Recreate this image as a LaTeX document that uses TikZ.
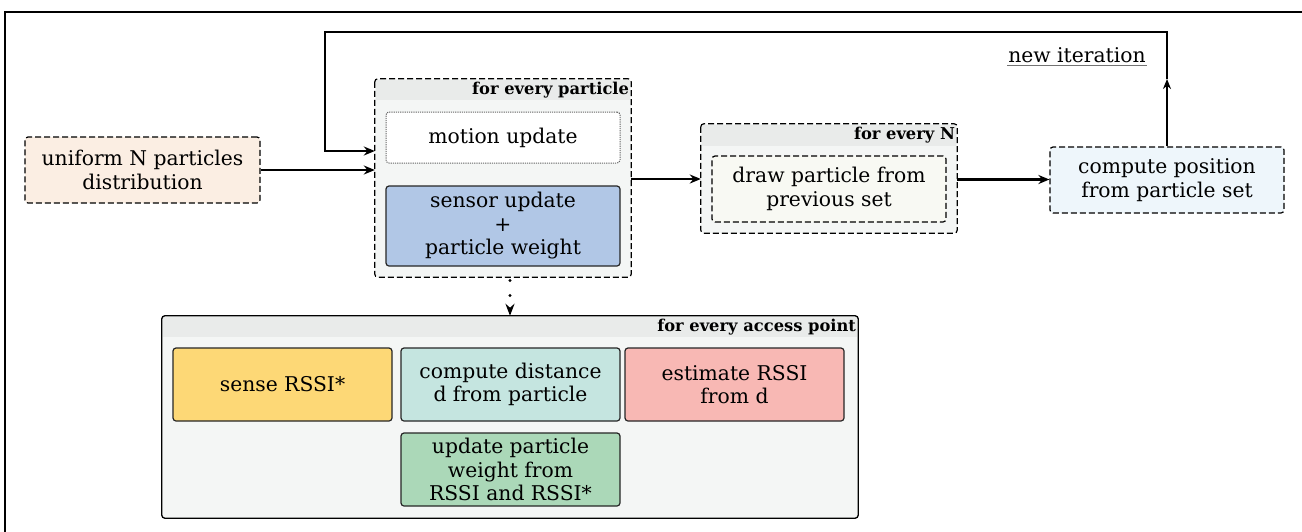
\documentclass[tikz,border=0pt]{standalone}
\usepackage{fontspec}
\setmainfont{DejaVu Serif}
\usetikzlibrary{arrows.meta,calc}
\definecolor{cpeach}{HTML}{FBEEE3}
\definecolor{cgray}{HTML}{F4F6F5}
\definecolor{chead}{HTML}{E9EBEA}
\definecolor{csensor}{HTML}{B1C7E6}
\definecolor{cdraw}{HTML}{F8F9F3}
\definecolor{cpos}{HTML}{EEF6FB}
\definecolor{csense}{HTML}{FDD876}
\definecolor{cdist}{HTML}{C5E5E0}
\definecolor{cest}{HTML}{F8B8B4}
\definecolor{cupd}{HTML}{ABD8B8}
\tikzset{
  txt/.style={font=\fontsize{20.3}{23.5}\selectfont, align=center},
  hdr/.style={font=\fontsize{16.3}{18}\selectfont\bfseries, anchor=north east, inner sep=1pt},
  box/.style={txt, rectangle, rounded corners=3pt, line width=1.2pt, inner sep=0pt},
  dsh/.style={dashed, dash pattern=on 6pt off 3pt},
  dbox/.style={box, draw, dsh},
  sbox/.style={box, draw=black!85},
  cont/.style={rectangle, rounded corners=3pt, inner sep=0pt, fill=cgray},
  flow/.style={line width=2.8pt, -{Stealth[length=11pt,width=9pt]}},
}
\begin{document}
\begin{tikzpicture}[x=1pt,y=-1pt]
\useasboundingbox (0,0) rectangle (1302,531);
% frame
\draw[line width=2.2pt] (5,540) -- (5,12) -- (1310,12);

% uniform
\node[dbox, fill=cpeach, minimum width=235pt, minimum height=66pt] (uni) at (142.5,170) {uniform N particles\\distribution};

% container particle
\node[cont, minimum width=256pt, minimum height=198pt] (P) at (503,178) {};
\fill[chead] ($(P.north west)+(1,1)$) rectangle ($(P.north east)+(-1,21)$);
\draw[dsh, line width=1.2pt, rounded corners=3pt] (P.north west) rectangle (P.south east);
\node[hdr] (Ph) at ($(P.north east)+(-1,2)$) {for every particle};
\node[box, draw=black!60, densely dotted, line width=1pt, fill=white, minimum width=234pt, minimum height=51pt] (mot) at (503,137.5) {motion update};
\node[sbox, fill=csensor, minimum width=234pt, minimum height=80pt] (sen) at (503,226) {sensor update\\+\\particle weight};

% container N
\node[cont, minimum width=256pt, minimum height=109pt] (N) at (829,178.5) {};
\fill[chead] ($(N.north west)+(1,1)$) rectangle ($(N.north east)+(-1,22)$);
\draw[dsh, line width=1.2pt, rounded corners=3pt] (N.north west) rectangle (N.south east);
\node[hdr] (Nh) at ($(N.north east)+(-1,2)$) {for every N};
\node[dbox, fill=cdraw, minimum width=234pt, minimum height=66pt] (drw) at (829,189) {draw particle from\\previous set};

% compute position
\node[dbox, fill=cpos, minimum width=234pt, minimum height=66pt] (pos) at (1167,180) {compute position\\from particle set};

% new iteration
\node[txt, inner sep=1pt] (iter) at (1077,55) {new iteration};
\draw[black!55, line width=1.2pt] ($(iter.south west)+(0,2)$) -- ($(iter.south east)+(0,2)$);

% access point container
\node[cont, minimum width=696pt, minimum height=202pt] (AP) at (510,417) {};
\fill[chead] ($(AP.north west)+(1,1)$) rectangle ($(AP.north east)+(-1,21)$);
\draw[line width=1.3pt, rounded corners=3pt] (AP.north west) rectangle (AP.south east);
\node[hdr] (APh) at ($(AP.north east)+(-1,2)$) {for every access point};
\node[sbox, fill=csense, minimum width=219pt, minimum height=73pt] (sense) at (282.5,384.5) {sense RSSI*};
\node[sbox, fill=cdist, minimum width=219pt, minimum height=73pt] (dist) at (510.5,384.5) {compute distance\\d from particle};
\node[sbox, fill=cest, minimum width=219pt, minimum height=73pt] (est) at (734.5,384.5) {estimate RSSI\\from d};
\node[sbox, fill=cupd, minimum width=219pt, minimum height=73pt] (upd) at (510.5,469.5) {update particle\\weight from\\RSSI and RSSI*};

% connectors
\draw[flow] (uni.east) -- (uni.east -| P.west);
\draw[flow] (P.east |- 0,179) -- (N.west |- 0,179);
\draw[flow] (N.east |- 0,179.5) -- (pos.west |- 0,179.5);
\coordinate (up) at (1167,79);
\coordinate (tl) at (325,32);
\draw[line width=2.8pt, -{Stealth[length=10pt,width=8pt]}] (pos.north) -- (up);
\draw[flow] (up) -- (up |- tl) -- (tl) -- (tl |- 0,151) -- (P.west |- 0,151);
\draw[line width=3.2pt, line cap=round, dash pattern=on 0pt off 15pt, -{Stealth[length=12pt,width=9pt]}] (AP.north |- 0,280.5) -- (AP.north);
\end{tikzpicture}
\end{document}
